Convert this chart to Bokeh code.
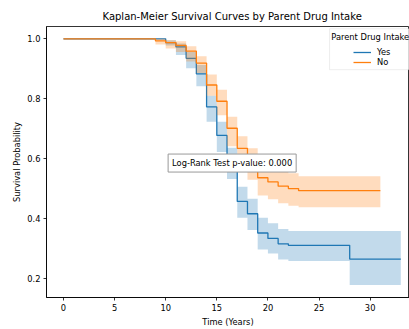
from bokeh.plotting import figure
from bokeh.models import (ColumnDataSource, FixedTicker, Label, Legend, LegendItem,
                          BoxAnnotation, Range1d, PrintfTickFormatter)
from bokeh.embed import file_html
from bokeh.resources import INLINE

# ---- data ----
yes_t = [0, 10, 11, 12, 13, 14, 15, 16, 17, 18, 19, 20, 21, 22, 28, 33]
yes_s = [1.0, 0.987, 0.973, 0.935, 0.883, 0.773, 0.678, 0.585, 0.458, 0.417, 0.353, 0.335, 0.317, 0.312, 0.266, 0.266]
yes_lo = [1.0, 0.978, 0.946, 0.902, 0.842, 0.724, 0.623, 0.533, 0.404, 0.363, 0.298, 0.285, 0.265, 0.26, 0.18, 0.18]
yes_hi = [1.0, 0.995, 0.984, 0.956, 0.913, 0.81, 0.724, 0.637, 0.507, 0.467, 0.404, 0.385, 0.366, 0.36, 0.36, 0.36]

no_t = [0, 9, 10, 11, 12, 13, 14, 15, 16, 17, 18, 19, 20, 21, 22, 23, 31]
no_s = [1.0, 0.993, 0.987, 0.978, 0.959, 0.919, 0.846, 0.792, 0.702, 0.635, 0.59, 0.537, 0.523, 0.509, 0.501, 0.494, 0.494]
no_lo = [1.0, 0.981, 0.968, 0.956, 0.924, 0.886, 0.81, 0.745, 0.642, 0.588, 0.53, 0.478, 0.465, 0.452, 0.444, 0.439, 0.439]
no_hi = [1.0, 1.0, 0.995, 0.992, 0.975, 0.942, 0.881, 0.83, 0.74, 0.675, 0.635, 0.59, 0.578, 0.562, 0.552, 0.542, 0.542]

x_ticks = [0, 5, 10, 15, 20, 25, 30]
y_ticks = [0.2, 0.4, 0.6, 0.8, 1.0]

title = "Kaplan-Meier Survival Curves by Parent Drug Intake"
logrank_text = "Log-Rank Test p-value: 0.000"
legend_title = "Parent Drug Intake"
labels = ["Yes", "No"]

BLUE = "#1f77b4"
ORANGE = "#ff7f0e"
FONT = "DejaVu Sans"

p = figure(width=409, height=329, output_backend="svg", toolbar_location=None,
           x_range=Range1d(-1.66, 33.85), y_range=Range1d(0.138, 1.041),
           min_border_left=46, min_border_right=0, min_border_top=26, min_border_bottom=26)

p.title.text = title
p.title.text_font = FONT
p.title.text_font_size = "10px"
p.title.text_font_style = "normal"
p.title.text_color = "#000000"
p.title.align = "left"
p.title.offset = 56

p.grid.visible = False
p.outline_line_color = "#000000"
p.outline_line_width = 0.8
p.background_fill_color = "white"
p.border_fill_color = "white"

for ax in (p.xaxis[0], p.yaxis[0]):
    ax.axis_line_color = "#000000"
    ax.axis_line_width = 0.8
    ax.major_tick_line_color = "#000000"
    ax.major_tick_line_width = 0.8
    ax.major_tick_out = 3
    ax.major_tick_in = 0
    ax.minor_tick_line_color = None
    ax.major_label_text_font = FONT
    ax.major_label_text_font_size = "8.3px"
    ax.major_label_text_color = "#000000"
    ax.axis_label_text_font = FONT
    ax.axis_label_text_font_size = "8.3px"
    ax.axis_label_text_font_style = "normal"
    ax.axis_label_text_color = "#000000"

p.xaxis.ticker = FixedTicker(ticks=x_ticks)
p.yaxis.ticker = FixedTicker(ticks=y_ticks)
p.yaxis.formatter = PrintfTickFormatter(format="%.1f")
p.xaxis.axis_label = "Time (Years)"
p.yaxis.axis_label = "Survival Probability"
p.xaxis.major_label_standoff = 3
p.yaxis.major_label_standoff = 3
p.xaxis.axis_label_standoff = 3
p.yaxis.axis_label_standoff = 2

src_yes = ColumnDataSource(dict(t=yes_t, s=yes_s, lo=yes_lo, hi=yes_hi))
src_no = ColumnDataSource(dict(t=no_t, s=no_s, lo=no_lo, hi=no_hi))

p.varea_step(x="t", y1="lo", y2="hi", step_mode="after", source=src_yes,
             fill_color=BLUE, fill_alpha=0.27)
r_yes = p.step(x="t", y="s", mode="after", source=src_yes, line_color=BLUE, line_width=1.3)
p.varea_step(x="t", y1="lo", y2="hi", step_mode="after", source=src_no,
             fill_color=ORANGE, fill_alpha=0.27)
r_no = p.step(x="t", y="s", mode="after", source=src_no, line_color=ORANGE, line_width=1.3)

# log-rank annotation in the centre of the axes
lr = Label(x=16.5, y=0.586, text=logrank_text, text_align="center", text_baseline="middle",
           text_font=FONT, text_font_size="8.3px", text_color="#000000",
           background_fill_color="white", background_fill_alpha=1.0,
           border_line_color="#999999", border_line_width=1, padding=4)
p.add_layout(lr)

# legend frame + title + items
frame = BoxAnnotation(left=26.03, right=40, top=1.0335, bottom=0.897,
                      fill_color="white", fill_alpha=0.8,
                      line_color="#c4c4c4", line_width=1)
p.add_layout(frame)
lt = Label(x=26.2, y=1.006, text=legend_title, text_align="left", text_baseline="middle",
           text_font=FONT, text_font_size="8.3px", text_color="#000000")
p.add_layout(lt)

legend = Legend(items=[LegendItem(label=labels[0], renderers=[r_yes]),
                       LegendItem(label=labels[1], renderers=[r_no])],
                location=(307, 230), border_line_alpha=0, background_fill_alpha=0,
                padding=0, margin=0, spacing=0, glyph_width=18, glyph_height=10,
                label_standoff=6, label_text_font=FONT, label_text_font_size="8.3px",
                label_text_color="#000000", label_height=10)
p.add_layout(legend)

open("out.html", "w").write(file_html(p, INLINE))
